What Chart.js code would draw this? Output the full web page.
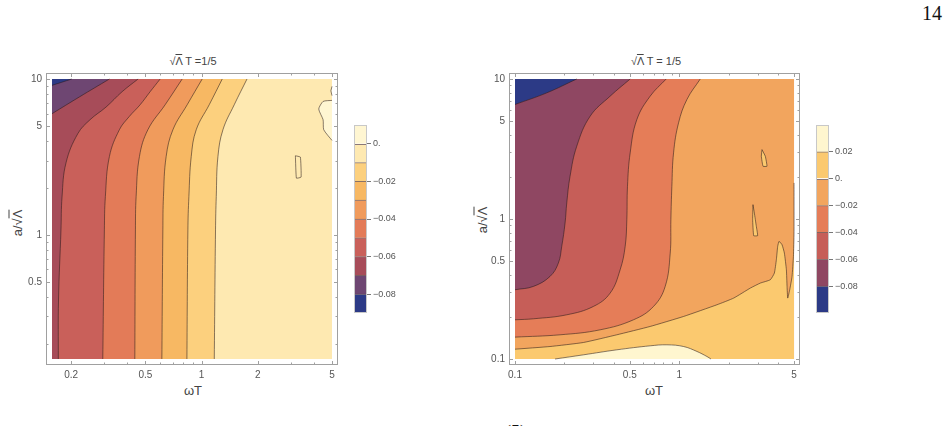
<!DOCTYPE html>
<html>
<head>
<meta charset="utf-8">
<script src="https://cdn.jsdelivr.net/npm/chart.js@4.4.0/dist/chart.umd.min.js"></script>
<style>
  body { margin: 0; background: #fff; width: 949px; height: 426px; overflow: hidden; position: relative;
         font-family: "Liberation Sans", Arial, sans-serif; }
  .box { position: absolute; }
  .lbl { position: absolute; color: #444; white-space: nowrap; line-height: 1; }
  .ov { text-decoration: overline; }
  .serif { font-family: "Liberation Serif", "DejaVu Serif", serif; color: #111; }
</style>
</head>
<body>
<div class="lbl serif" style="left:922px;top:3px;font-size:20px">14</div>
<div class="lbl serif" style="left:505px;top:423px;font-size:18px">(5)</div>

<div class="lbl" style="left:193px;top:56px;font-size:11px;transform:translateX(-50%)">√<span class="ov">Λ</span> T =1/5</div>
<div class="lbl" style="left:656px;top:56px;font-size:11px;transform:translateX(-50%)">√<span class="ov">Λ</span> T = 1/5</div>
<div class="lbl" style="left:193px;top:384px;font-size:13px;transform:translateX(-50%)">ωT</div>
<div class="lbl" style="left:654px;top:384px;font-size:13px;transform:translateX(-50%)">ωT</div>
<div class="lbl" style="left:17px;top:223px;font-size:13px;transform:translate(-50%,-50%) rotate(-90deg)">a/√<span class="ov">Λ</span></div>
<div class="lbl" style="left:482px;top:220px;font-size:13px;transform:translate(-50%,-50%) rotate(-90deg)">a/√<span class="ov">Λ</span></div>

<div class="box" style="left:0;top:0"><canvas id="left" width="420" height="426"></canvas></div>
<div class="box" style="left:460px;top:0"><canvas id="right" width="420" height="426"></canvas></div>
<div class="box" style="left:354px;top:115px"><canvas id="leftBar" width="60" height="210"></canvas></div>
<div class="box" style="left:816px;top:115px"><canvas id="rightBar" width="60" height="210"></canvas></div>

<script>
// ---- left panel: contour lines (ωT, a/√Λ), levels -0.08 ... -0.01
var leftC1 = [[0.2015,10],[0.158,9.10]];
var leftC2 = [[0.3208,10],[0.2214,7.67],[0.158,5.99]];
var leftC3 = [[0.457,10],[0.3752,8.29],[0.3079,6.61],[0.2526,5.48],[0.2171,4.456],[0.1878,2.901],[0.1788,1.754],[0.1765,1.077],[0.1712,0.3824],[0.1708,0.16]];
var leftC4 = [[0.6002,10],[0.5302,8.29],[0.4688,6.84],[0.4091,5.73],[0.3628,4.727],[0.3208,3.184],[0.3052,1.762],[0.3015,1.077],[0.2956,0.16]];
var leftC5 = [[0.7875,10],[0.6383,6.84],[0.5157,4.727],[0.4647,3.184],[0.4461,1.762],[0.4422,1.077],[0.4389,0.16]];
var leftC6 = [[1.008,10],[0.8377,6.84],[0.7022,4.727],[0.6461,3.184],[0.625,1.762],[0.6204,1.077],[0.6128,0.16]];
var leftC7 = [[1.291,10],[1.0995,6.84],[0.9363,4.727],[0.8804,3.184],[0.8554,1.762],[0.8448,1.077],[0.8346,0.16]];
var leftC8 = [[1.752,10],[1.497,6.84],[1.302,4.727],[1.224,3.184],[1.199,1.762],[1.188,1.077],[1.17,0.16]];
var leftIsland = [[5,7.29],[4.48,7.18],[4.245,6.42],[4.48,5.48],[4.515,4.727],[5,4.035]];
var leftSliver = [[5,8.97],[4.93,8.4],[5,7.82]];
var leftLoop = [[3.183,3.218],[3.384,3.156],[3.414,2.348],[3.222,2.313],[3.183,3.218]];
var leftColors = ['#2c3a86','#6e4672','#a74c59','#c9605a','#e37b58','#f09b5c','#f7b863','#fcd07e','#fee9b1','#fff6d2'];
var leftLevels = [-0.09,-0.08,-0.07,-0.06,-0.05,-0.04,-0.03,-0.02,-0.01,0,0.01];
var leftXTicks = [0.2,0.3,0.4,0.5,0.6,0.7,0.8,0.9,1,2,3,4,5];
var leftXLabels = ['0.2','','','0.5','','','','','1','2','','','5'];
var leftYTicks = [0.2,0.3,0.4,0.5,0.6,0.7,0.8,0.9,1,2,3,4,5,6,7,8,9,10];
var leftYLabels = ['','','','0.5','','','','','1','','','','5','','','','','10'];
var leftBarTicks = [-0.08,-0.06,-0.04,-0.02,0];
var leftBarLabels = ['\u22120.08','\u22120.06','\u22120.04','\u22120.02','0.'];

// ---- right panel: contour lines, levels -0.08 ... 0.02
var rightC1 = [[0.2377,10],[0.156,7.96],[0.1,6.57]];
var rightC2 = [[0.5026,10],[0.3796,7.54],[0.2867,5.42],[0.2377,3.31],[0.2164,2.02],[0.2066,1.30],[0.2018,0.936],[0.1926,0.638],[0.1837,0.4844],[0.1634,0.389],[0.1294,0.330],[0.1,0.3124]];
var rightC3 = [[0.833,10],[0.6654,7.54],[0.552,5.13],[0.5026,2.965],[0.4842,1.712],[0.4797,0.989],[0.4687,0.638],[0.4368,0.434],[0.3796,0.2956],[0.3003,0.2374],[0.2066,0.2069],[0.1294,0.1937],[0.1,0.1906]];
var rightC4 = [[1.343,10],[1.114,7.14],[0.9906,4.86],[0.9235,2.965],[0.902,1.712],[0.8896,0.989],[0.8814,0.571],[0.8214,0.330],[0.6975,0.2374],[0.5266,0.1906],[0.3299,0.1616],[0.1881,0.1489],[0.1,0.1433]];
var rightC5 = [[0.1,0.1175],[0.1634,0.1228],[0.261,0.1312],[0.4169,0.1489],[0.6654,0.1708],[1.063,0.2013],[1.697,0.244],[2.145,0.2723],[2.71,0.321],[3.118,0.3485],[3.588,0.3683],[3.796,0.411],[3.904,0.512],[3.978,0.638],[4.053,0.692],[4.227,0.655],[4.368,0.571],[4.493,0.434],[4.535,0.330],[4.578,0.2723],[4.708,0.3124],[4.864,0.389],[4.96,0.541],[5,0.794],[5,1.81]];
var rightC6 = [[0.1753,0.1],[0.261,0.1071],[0.4169,0.1163],[0.6654,0.1242],[0.841,0.1263],[1.063,0.1228],[1.282,0.1132],[1.475,0.1042],[1.56,0.1]];
var rightIslandA = [[3.192,3.13],[3.344,2.807],[3.424,2.38],[3.237,2.38],[3.162,2.807],[3.192,3.13]];
var rightIslandB = [[2.813,1.266],[2.867,1.104],[2.948,0.886],[3.003,0.760],[2.84,0.760],[2.80,0.989],[2.813,1.266]];
var rightColors = ['#2c3a86','#8f4762','#c65e58','#e57d58','#f2a55e','#fbc96f','#fff6cf'];
var rightLevels = [-0.10,-0.08,-0.06,-0.04,-0.02,0,0.02,0.04];
var rightXTicks = [0.1,0.2,0.3,0.4,0.5,0.6,0.7,0.8,0.9,1,2,3,4,5];
var rightXLabels = ['0.1','','','','0.5','','','','','1','','','','5'];
var rightYTicks = [0.1,0.2,0.3,0.4,0.5,0.6,0.7,0.8,0.9,1,2,3,4,5,6,7,8,9,10];
var rightYLabels = ['0.1','','','','0.5','','','','','1','','','','5','','','','','10'];
var rightBarTicks = [-0.08,-0.06,-0.04,-0.02,0,0.02];
var rightBarLabels = ['\u22120.08','\u22120.06','\u22120.04','\u22120.02','0.','0.02'];

var lineColor = 'rgba(40,25,25,0.55)';

// fills the regions between contour lines, using the points Chart.js placed
var contourFill = {
  id: 'contourFill',
  beforeDatasetsDraw: function(chart, args, opts) {
    if (!opts.layers) return;
    var ctx = chart.ctx, xs = chart.scales.x, ys = chart.scales.y;
    ctx.save();
    opts.layers.forEach(function(layer) {
      var started = false;
      ctx.beginPath();
      if (layer.dataset != null) {
        var meta = chart.getDatasetMeta(layer.dataset);
        if (meta.dataset && meta.dataset.updateControlPoints) meta.dataset.updateControlPoints(chart.chartArea, 'x');
        var pts = meta.data;
        pts.forEach(function(p, i) {
          if (i === 0) { ctx.moveTo(p.x, p.y); return; }
          var q = pts[i - 1];
          if (q.cp2x !== undefined && p.cp1x !== undefined) ctx.bezierCurveTo(q.cp2x, q.cp2y, p.cp1x, p.cp1y, p.x, p.y);
          else ctx.lineTo(p.x, p.y);
        });
        started = true;
      }
      (layer.corners || []).forEach(function(c) {
        var px = xs.getPixelForValue(c[0]), py = ys.getPixelForValue(c[1]);
        if (!started) { ctx.moveTo(px, py); started = true; } else ctx.lineTo(px, py);
      });
      ctx.closePath();
      ctx.fillStyle = layer.color;
      ctx.fill();
    });
    ctx.restore();
  }
};

// grey frame with inward ticks on all four sides
var frameTicks = {
  id: 'frameTicks',
  afterDatasetsDraw: function(chart, args, opts) {
    var ctx = chart.ctx, a = chart.chartArea, xs = chart.scales.x, ys = chart.scales.y;
    ctx.save();
    ctx.strokeStyle = '#a0a0a0';
    ctx.lineWidth = 1;
    ctx.strokeRect(Math.round(a.left) + 0.5, Math.round(a.top) + 0.5, Math.round(a.right - a.left) - 1, Math.round(a.bottom - a.top) - 1);
    ctx.beginPath();
    xs.ticks.forEach(function(t, i) {
      var len = opts.xLabels[i] ? 4 : 2.5;
      var x = Math.round(xs.getPixelForValue(t.value)) + 0.5;
      ctx.moveTo(x, a.bottom); ctx.lineTo(x, a.bottom - len);
      ctx.moveTo(x, a.top); ctx.lineTo(x, a.top + len);
    });
    ys.ticks.forEach(function(t, i) {
      var len = opts.yLabels[i] ? 4 : 2.5;
      var y = Math.round(ys.getPixelForValue(t.value)) + 0.5;
      ctx.moveTo(a.left, y); ctx.lineTo(a.left + len, y);
      ctx.moveTo(a.right, y); ctx.lineTo(a.right - len, y);
    });
    ctx.stroke();
    ctx.restore();
  }
};

function lineSet(arr, tension) {
  return {
    data: arr.map(function(p) { return {x: p[0], y: p[1]}; }),
    showLine: true, borderColor: lineColor, borderWidth: 1,
    pointRadius: 0, tension: tension, fill: false
  };
}

function contourChart(id, lines, tensions, layers, range, ticks, yWidth, padRight) {
  return new Chart(document.getElementById(id), {
    type: 'scatter',
    data: { datasets: lines.map(function(l, i) { return lineSet(l, tensions[i]); }) },
    options: {
      responsive: false, animation: false, events: [],
      layout: { padding: { left: 0, top: 73, right: padRight, bottom: 0 } },
      plugins: {
        legend: { display: false }, tooltip: { enabled: false },
        contourFill: { layers: layers },
        frameTicks: { xLabels: ticks.xLabels, yLabels: ticks.yLabels }
      },
      scales: {
        x: {
          type: 'logarithmic', min: range.x[0], max: range.x[1],
          afterBuildTicks: function(s) { s.ticks = ticks.x.map(function(v) { return {value: v}; }); },
          afterFit: function(s) { s.height = 61; },
          ticks: { callback: function(v, i) { return ticks.xLabels[i]; }, autoSkip: false, maxRotation: 0,
                   padding: 4, color: '#555', font: { size: 10, family: '"Liberation Sans", Arial, sans-serif' } },
          grid: { display: false, drawTicks: false }, border: { display: false }
        },
        y: {
          type: 'logarithmic', min: range.y[0], max: range.y[1],
          afterBuildTicks: function(s) { s.ticks = ticks.y.map(function(v) { return {value: v}; }); },
          afterFit: function(s) { s.width = yWidth; },
          ticks: { callback: function(v, i) { return ticks.yLabels[i]; }, autoSkip: false,
                   padding: 4, color: '#555', font: { size: 10, family: '"Liberation Sans", Arial, sans-serif' } },
          grid: { display: false, drawTicks: false }, border: { display: false }
        }
      }
    },
    plugins: [contourFill, frameTicks]
  });
}

// ---- left panel
var lx0 = 0.158, lx1 = 5, ly0 = 0.16, ly1 = 10;
contourChart('left',
  [leftC1, leftC2, leftC3, leftC4, leftC5, leftC6, leftC7, leftC8, leftIsland, leftSliver, leftLoop],
  [0.4, 0.4, 0.4, 0.4, 0.4, 0.4, 0.4, 0.4, 0.2, 0, 0.1],
  [
    { corners: [[lx0,ly0],[lx1,ly0],[lx1,ly1],[lx0,ly1]], color: leftColors[0] },
    { dataset: 0, corners: [[lx0,ly0],[lx1,ly0],[lx1,ly1]], color: leftColors[1] },
    { dataset: 1, corners: [[lx0,ly0],[lx1,ly0],[lx1,ly1]], color: leftColors[2] },
    { dataset: 2, corners: [[lx1,ly0],[lx1,ly1]], color: leftColors[3] },
    { dataset: 3, corners: [[lx1,ly0],[lx1,ly1]], color: leftColors[4] },
    { dataset: 4, corners: [[lx1,ly0],[lx1,ly1]], color: leftColors[5] },
    { dataset: 5, corners: [[lx1,ly0],[lx1,ly1]], color: leftColors[6] },
    { dataset: 6, corners: [[lx1,ly0],[lx1,ly1]], color: leftColors[7] },
    { dataset: 7, corners: [[lx1,ly0],[lx1,ly1]], color: leftColors[8] },
    { dataset: 8, color: leftColors[9] },
    { dataset: 9, color: leftColors[9] }
  ],
  { x: [0.1467, 5.384], y: [0.1464, 10.926] },
  { x: leftXTicks, xLabels: leftXLabels, y: leftYTicks, yLabels: leftYLabels },
  46, 82);

// ---- right panel
var rx0 = 0.1, rx1 = 5, ry0 = 0.1, ry1 = 10;
contourChart('right',
  [rightC1, rightC2, rightC3, rightC4, rightC5, rightC6, rightIslandA, rightIslandB],
  [0.4, 0.4, 0.4, 0.4, 0.15, 0.4, 0.1, 0.1],
  [
    { corners: [[rx0,ry0],[rx1,ry0],[rx1,ry1],[rx0,ry1]], color: rightColors[0] },
    { dataset: 0, corners: [[rx0,ry0],[rx1,ry0],[rx1,ry1]], color: rightColors[1] },
    { dataset: 1, corners: [[rx0,ry0],[rx1,ry0],[rx1,ry1]], color: rightColors[2] },
    { dataset: 2, corners: [[rx0,ry0],[rx1,ry0],[rx1,ry1]], color: rightColors[3] },
    { dataset: 3, corners: [[rx0,ry0],[rx1,ry0],[rx1,ry1]], color: rightColors[4] },
    { dataset: 4, corners: [[rx1,ry0],[rx0,ry0]], color: rightColors[5] },
    { dataset: 5, color: rightColors[6] },
    { dataset: 6, color: rightColors[5] },
    { dataset: 7, color: rightColors[5] }
  ],
  { x: [0.09193, 5.438], y: [0.09061, 11.036] },
  { x: rightXTicks, xLabels: rightXLabels, y: rightYTicks, yLabels: rightYLabels },
  49, 80);

// ---- colour bar legends
var barFrame = {
  id: 'barFrame',
  afterDatasetsDraw: function(chart) {
    var ctx = chart.ctx, a = chart.chartArea;
    ctx.save();
    ctx.strokeStyle = '#c8c8c8';
    ctx.lineWidth = 1;
    ctx.strokeRect(a.left + 0.5, a.top + 0.5, a.right - a.left - 1, a.bottom - a.top - 1);
    ctx.restore();
  }
};

function barLegend(id, levels, colors, ticks, labels) {
  var sets = colors.map(function(c, i) {
    return {
      data: [[levels[i], levels[i + 1]]], backgroundColor: c, borderColor: 'rgba(60,30,30,0.6)',
      borderWidth: i < colors.length - 1 ? { top: 1, right: 0, bottom: 0, left: 0 } : 0,
      borderSkipped: false, grouped: false, barPercentage: 1, categoryPercentage: 1
    };
  });
  return new Chart(document.getElementById(id), {
    type: 'bar',
    data: { labels: [''], datasets: sets },
    options: {
      responsive: false, animation: false, events: [],
      layout: { padding: { left: 0, top: 10, right: 0, bottom: 12 } },
      plugins: { legend: { display: false }, tooltip: { enabled: false } },
      scales: {
        x: { display: false },
        y: {
          position: 'right', min: levels[0], max: levels[levels.length - 1],
          afterBuildTicks: function(s) { s.ticks = ticks.map(function(v) { return {value: v}; }); },
          afterFit: function(s) { s.width = 47; },
          ticks: { callback: function(v, i) { return labels[i]; }, padding: 2, color: '#555',
                   font: { size: 9, family: '"Liberation Sans", Arial, sans-serif' } },
          grid: { drawOnChartArea: false, drawTicks: true, tickLength: 4, color: '#777' },
          border: { display: false }
        }
      }
    },
    plugins: [barFrame]
  });
}

barLegend('leftBar', leftLevels, leftColors, leftBarTicks, leftBarLabels);
barLegend('rightBar', rightLevels, rightColors, rightBarTicks, rightBarLabels);
</script>
</body>
</html>
